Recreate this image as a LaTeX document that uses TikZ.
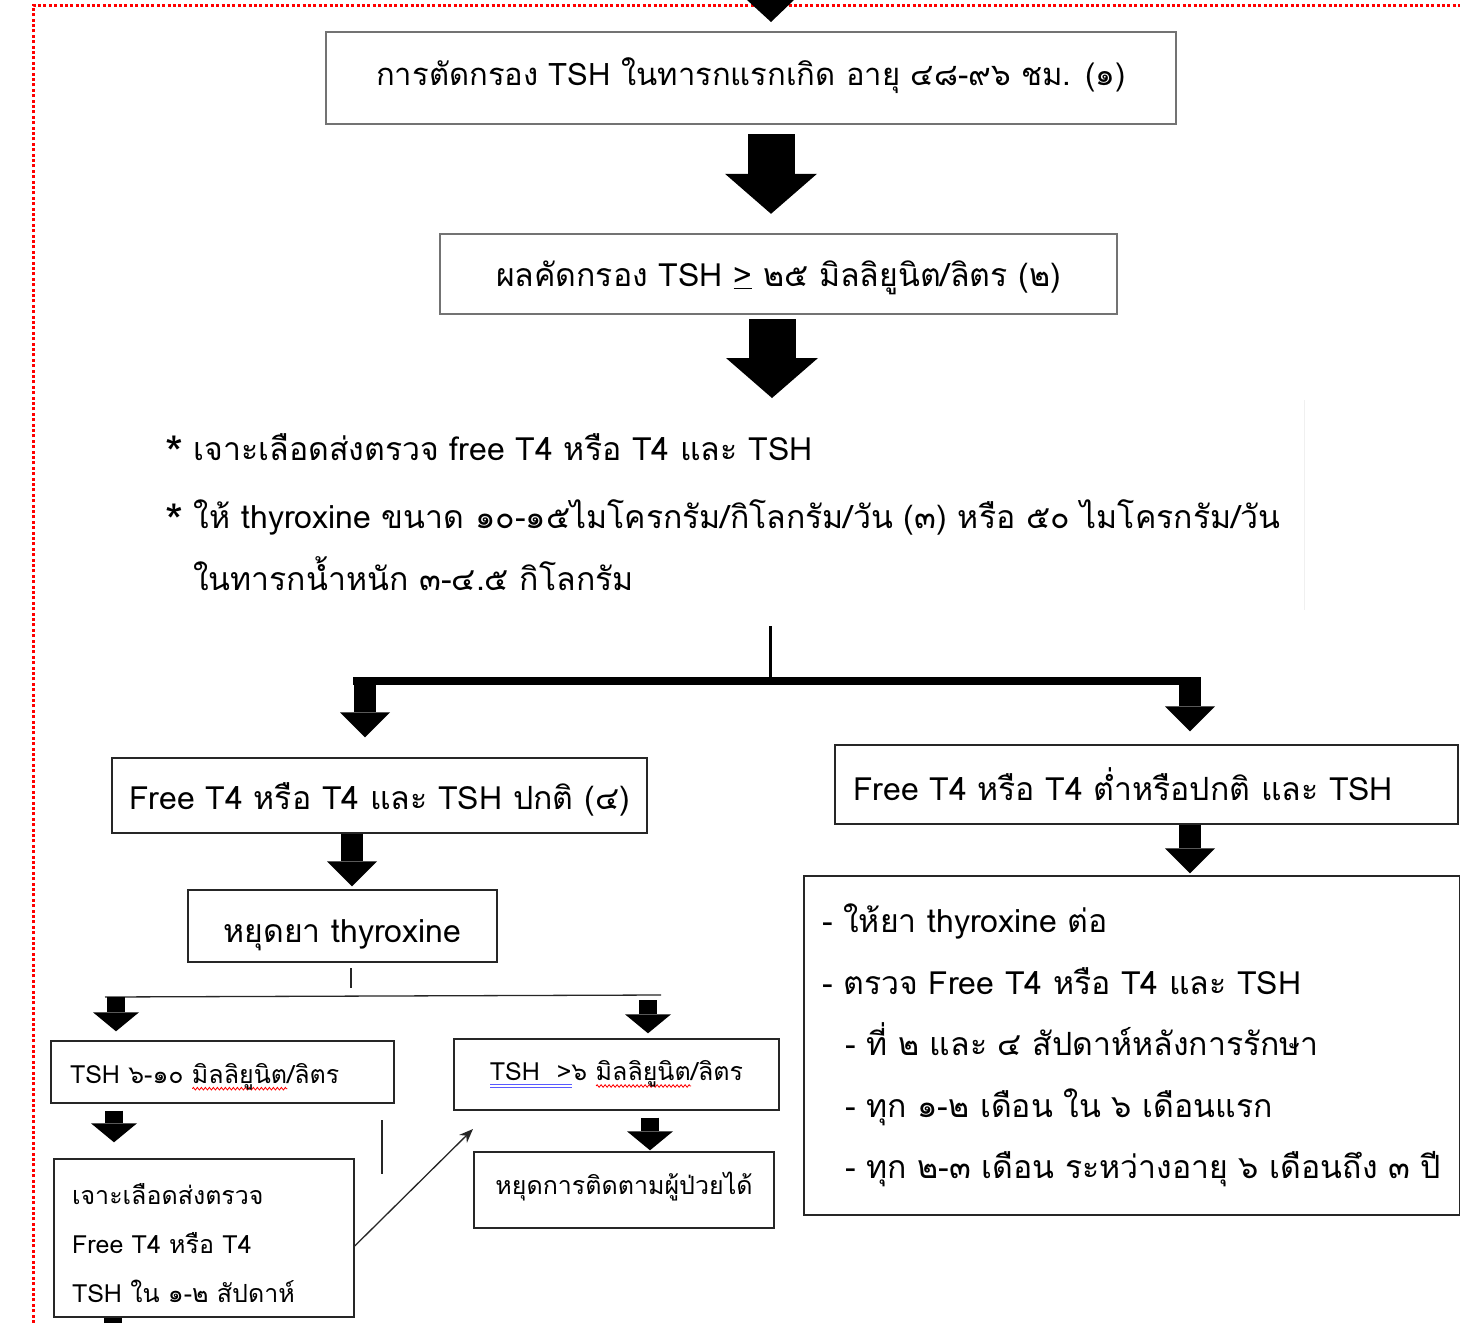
\documentclass[tikz,border=0pt]{standalone}
\usepackage{fontspec}
\setmainfont{Loma}[Script=Thai]
\usetikzlibrary{arrows.meta,decorations.pathmorphing}

% spell-check style underlines
\newsavebox\ulbox
\newcommand\redwave[1]{\sbox\ulbox{#1}\rlap{\tikz[baseline=0pt]\draw[red, line width=0.8pt, decorate,
  decoration={zigzag, amplitude=1.3pt, segment length=4pt}] (0pt,-5pt) -- (\the\wd\ulbox,-5pt);}\usebox\ulbox}
\newcommand\bluedouble[1]{\sbox\ulbox{#1}\rlap{\tikz[baseline=0pt]{\draw[blue!65, line width=1pt]
  (0pt,-4pt) -- (\the\wd\ulbox,-4pt) (0pt,-6.6pt) -- (\the\wd\ulbox,-6.6pt);}}\usebox\ulbox}
% large bullet asterisk
\newcommand\notemark{\raisebox{-9pt}{\fontsize{46}{46}\selectfont *}}
% move the ink of a line without changing its reported size
\newcommand\shiftdown[2]{\raisebox{-#1}[\height][\depth]{#2}}

\newcommand\bigfont{\fontsize{32}{38}\selectfont}
\newcommand\smallfont{\fontsize{25}{30}\selectfont}

\tikzset{
  graybox/.style={draw=black!55, line width=2.4pt, inner sep=0pt, font=\bigfont},
  plainbox/.style={draw=black!85, line width=1.4pt, inner sep=0pt},
  bigblk/.style={line width=47pt, -{Triangle[width=92pt,length=40pt,line width=0pt]}},
  midblk/.style={line width=22pt, -{Triangle[width=50pt,length=25pt,line width=0pt]}},
  smallblk/.style={line width=18pt, -{Triangle[width=46pt,length=19pt,line width=0pt]}},
  thin/.style={line width=1.3pt, black!85},
}

\begin{document}
\begin{tikzpicture}[x=1pt,y=-1pt]
\useasboundingbox (0,0) rectangle (1460,1323);
\fill[white] (0,0) rectangle (1460,1323);

% dotted frame
\draw[red, line width=3pt, dash pattern=on 3pt off 2.4pt] (33,1323) -- (33,5) -- (1460,5);
% incoming arrow from above
\fill (747,0) -- (794,0) -- (771,22) -- cycle;

% faint text-frame edge
\draw[black!6, line width=1pt] (1304,400) -- (1304,610);

% boxes
\node[graybox, font=\fontsize{31}{38}\selectfont, minimum width=850pt, minimum height=92pt] (b1) at (751,78)
  {\shiftdown{-2pt}{การตัดกรอง TSH ในทารกแรกเกิด อายุ ๔๘-๙๖ ชม. (๑)}};
\node[graybox, minimum width=677pt, minimum height=80pt] (b2) at (778.5,274)
  {\shiftdown{4pt}{ผลคัดกรอง TSH \underline{>} ๒๕ มิลลิยูนิต/ลิตร (๒)}};

\node[font=\bigfont, anchor=base west, inner sep=0pt] (n1) at (165,460)
  {\notemark\ เจาะเลือดส่งตรวจ free T4 หรือ T4 และ TSH};
\node[font=\bigfont, anchor=base west, inner sep=0pt] (n2) at (165,528)
  {\notemark\ ให้ thyroxine ขนาด ๑๐-๑๕ไมโครกรัม/กิโลกรัม/วัน (๓) หรือ ๕๐ ไมโครกรัม/วัน};
\node[font=\bigfont, anchor=base west, inner sep=0pt] (n3) at (193,590)
  {ในทารกน้ำหนัก ๓-๔.๕ กิโลกรัม};

\node[plainbox, font=\bigfont, minimum width=535pt, minimum height=75pt] (bL1) at (379.5,795.5)
  {\shiftdown{4pt}{Free T4 หรือ T4 และ TSH ปกติ (๔)}};
\node[plainbox, font=\bigfont, minimum height=79pt, text width=587pt, inner xsep=18pt, align=left] (bR1) at (1146.5,784.5)
  {Free T4 หรือ T4 ต่ำหรือปกติ และ TSH};
\node[plainbox, font=\bigfont, minimum width=309pt, minimum height=72pt] (bStop) at (342.5,926)
  {\shiftdown{9pt}{หยุดยา thyroxine}};
\node[plainbox, font=\fontsize{32}{61.5}\selectfont, minimum height=339pt, text width=620pt, inner xsep=18pt, align=left] (bR2) at (1132,1045.5)
  {- ให้ยา thyroxine ต่อ\\
   - ตรวจ Free T4 หรือ T4 และ TSH\\
   \hspace*{23pt}- ที่ ๒ และ ๔ สัปดาห์หลังการรักษา\\
   \hspace*{23pt}- ทุก ๑-๒ เดือน ใน ๖ เดือนแรก\\
   \hspace*{23pt}- ทุก ๒-๓ เดือน ระหว่างอายุ ๖ เดือนถึง ๓ ปี};

\node[plainbox, font=\smallfont, minimum height=62pt, text width=305pt, inner xsep=19pt, align=left] (bA) at (222.5,1072)
  {\shiftdown{5pt}{TSH ๖-๑๐ \redwave{มิลลิยูนิต}/ลิตร}};
\node[plainbox, font=\smallfont, minimum width=325pt, minimum height=71pt] (bB) at (616.5,1074.5)
  {\bluedouble{TSH\ \ >}๖ \redwave{มิลลิยูนิต}/ลิตร};
\node[plainbox, font=\fontsize{25}{49}\selectfont, minimum height=158pt, text width=264pt, inner xsep=18pt, align=left] (bC) at (204,1238)
  {\shiftdown{5pt}{เจาะเลือดส่งตรวจ}\\ \shiftdown{5pt}{Free T4 หรือ T4}\\ \shiftdown{5pt}{TSH ใน ๑-๒ สัปดาห์}};
\node[plainbox, font=\smallfont, minimum width=300pt, minimum height=76pt] (bD) at (624,1190)
  {\shiftdown{-3pt}{หยุดการติดตามผู้ป่วยได้}};

% columns of the connectors
\coordinate (c1) at (771,0);
\coordinate (c2) at (772,0);
\coordinate (n2end) at (772,398);
\coordinate (split) at (770,626);
\coordinate (fork) at (770,681);
\coordinate (forkL) at (353,681);
\coordinate (forkR) at (1201,681);
\coordinate (cL) at (365,0);
\coordinate (cR) at (1190,0);
\coordinate (cS) at (352,0);
\coordinate (cA) at (116,0);
\coordinate (cB) at (648,0);
\coordinate (cA2) at (114,0);
\coordinate (cB2) at (650,0);
\coordinate (cC) at (113,0);

% main flow
\draw[bigblk] ([yshift=-9pt]b1.south -| c1) -- ([yshift=19pt]b2.north -| c1);
\draw[bigblk] ([yshift=-4pt]b2.south -| c2) -- (n2end);

% fork into two branches
\draw[line width=3pt] (split) -- (fork);
\draw[line width=8pt] (forkL) -- (forkR);
\draw[midblk] ([yshift=-4pt]forkL -| cL) -- ([yshift=20pt]bL1.north -| cL);
\draw[midblk] ([yshift=-4pt]forkR -| cR) -- ([yshift=13pt]bR1.north -| cR);

\draw[midblk] (bL1.south -| cS) -- ([yshift=3pt]bStop.north -| cS);
\draw[midblk] (bR1.south -| cR) -- ([yshift=2pt]bR2.north -| cR);

% second fork
\coordinate (s1) at (351,968);
\coordinate (s2) at (351,988);
\coordinate (h1) at (105,997);
\coordinate (h2) at (661,995);
\draw[thin] (s1) -- (s2);
\draw[thin] (h1) -- (h2);
\draw[smallblk] (h1 -| cA) -- ([yshift=9pt]bA.north -| cA);
\draw[smallblk] ([yshift=-5pt]h2 -| cB) -- ([yshift=5pt]bB.north -| cB);
\draw[smallblk] ([yshift=-7pt]bA.south -| cA2) -- ([yshift=16pt]bC.north -| cA2);
\draw[smallblk] ([yshift=-7pt]bB.south -| cB2) -- ([yshift=1pt]bD.north -| cB2);
\draw[line width=18pt] (bC.south -| cC) -- ++(0,14);

% recheck loop
\draw[thin] (382,1120) -- (382,1174);
\coordinate (loopend) at (473,1129);
\draw[thin, -{Stealth[length=14pt,width=11pt]}] ([yshift=-8pt]bC.east) -- (loopend);
\end{tikzpicture}
\end{document}
